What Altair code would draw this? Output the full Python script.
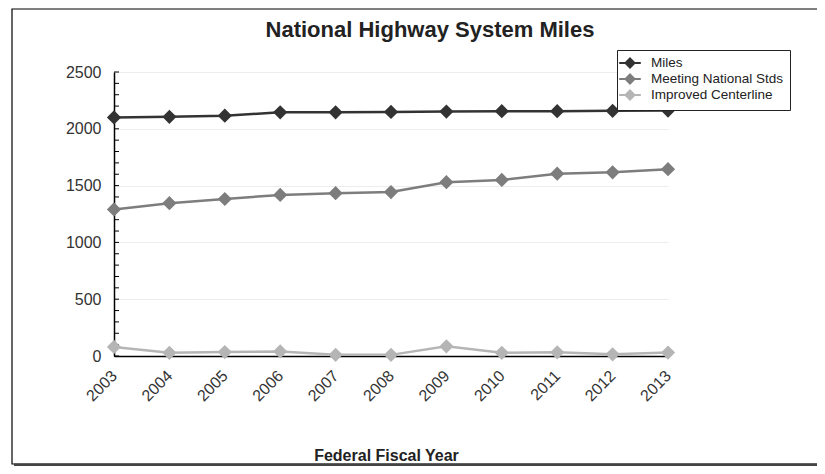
import altair as alt
import pandas as pd

years = [2003, 2004, 2005, 2006, 2007, 2008, 2009, 2010, 2011, 2012, 2013]
miles = [2100, 2105, 2115, 2145, 2145, 2148, 2152, 2155, 2155, 2158, 2160]
meeting = [1290, 1345, 1382, 1418, 1433, 1443, 1530, 1550, 1605, 1617, 1645]
improved = [80, 28, 35, 40, 10, 10, 85, 28, 32, 15, 30]
series_names = ["Miles", "Meeting National Stds", "Improved Centerline"]
series_colors = ["#333333", "#7d7d7d", "#b5b5b5"]
y_ticks = [0, 500, 1000, 1500, 2000, 2500]
minor_ticks = list(range(0, 2501, 100))

rows = []
for name, vals in zip(series_names, [miles, meeting, improved]):
    for yr, v in zip(years, vals):
        rows.append({"Year": yr, "Value": v, "Series": name})
df = pd.DataFrame(rows)

FONT = "Liberation Sans"

scale_c = alt.Scale(domain=series_names, range=series_colors)
x_enc = alt.X("Year:Q", scale=alt.Scale(domain=[2003, 2013], nice=False, zero=False),
              axis=alt.Axis(values=years, format="d", labelAngle=-45, labelAlign="right",
                            labelBaseline="middle", ticks=False, grid=False,
                            domainColor="black", domainWidth=1.5, labelFontSize=16,
                            labelColor="#333", labelFont=FONT, labelPadding=17,
                            title="Federal Fiscal Year", titleFont=FONT, titleFontSize=16,
                            titleFontWeight="bold", titleColor="#222", titleX=272, titleY=104,
                            titleAlign="center", titleBaseline="alphabetic"))
y_enc = alt.Y("Value:Q", scale=alt.Scale(domain=[0, 2500], nice=False),
              axis=alt.Axis(values=y_ticks, format="d", ticks=False, grid=True, gridColor="#ededed",
                            domainColor="black", domainWidth=1.5, labelFontSize=16,
                            labelColor="#333", labelFont=FONT, labelPadding=13, title=None))

legend = alt.Legend(title=None, orient="none", legendX=503, legendY=-22,
                    fillColor="white", strokeColor="#222", padding=6,
                    labelFont=FONT, labelFontSize=13.5, labelColor="#222",
                    symbolType="M-1.8,0L1.8,0M0,-0.75L0.75,0L0,0.75L-0.75,0Z",
                    symbolSize=144, symbolStrokeWidth=2, rowPadding=-3, labelOffset=14)

lines = alt.Chart(df).mark_line(strokeWidth=2.5).encode(
    x=x_enc, y=y_enc,
    stroke=alt.Stroke("Series:N", scale=scale_c, sort=series_names, legend=legend),
)
points = alt.Chart(df).mark_point(shape="diamond", filled=True, size=130, opacity=1).encode(
    x="Year:Q", y="Value:Q",
    fill=alt.Fill("Series:N", scale=scale_c, sort=series_names, legend=legend),
    stroke=alt.Stroke("Series:N", scale=scale_c, sort=series_names, legend=legend),
)
minor = alt.Chart(pd.DataFrame({"t": minor_ticks})).mark_rule(color="black", strokeWidth=1).encode(
    y=alt.Y("t:Q"), x=alt.value(0), x2=alt.value(5)
)
frame = alt.Chart(pd.DataFrame({"a": [0]})).mark_rect(fill=None, stroke="black", strokeWidth=1.2, clip=False).encode(
    x=alt.value(-102), x2=alt.value(704), y=alt.value(-63), y2=alt.value(392)
)
frame_b = alt.Chart(pd.DataFrame({"a": [0]})).mark_rule(color="#444", strokeWidth=3).encode(
    x=alt.value(-100), x2=alt.value(705), y=alt.value(393)
)
frame_r = alt.Chart(pd.DataFrame({"a": [0]})).mark_rule(color="#444", strokeWidth=3).encode(
    x=alt.value(705), y=alt.value(-61), y2=alt.value(394)
)

chart = alt.layer(frame, frame_b, frame_r, minor, lines, points).properties(
    width=554, height=284,
    padding={"left": 106, "top": 64, "right": 149, "bottom": 110},
    autosize=alt.AutoSizeParams(type="none"),
    title=alt.TitleParams("National Highway System Miles", font=FONT, fontSize=22,
                          fontWeight="bold", color="#222", anchor="middle", frame="group",
                          dx=39, dy=56, offset=22),
).configure_view(stroke=None)

chart.save("out.html", embed_options={"renderer": "svg", "actions": False})
